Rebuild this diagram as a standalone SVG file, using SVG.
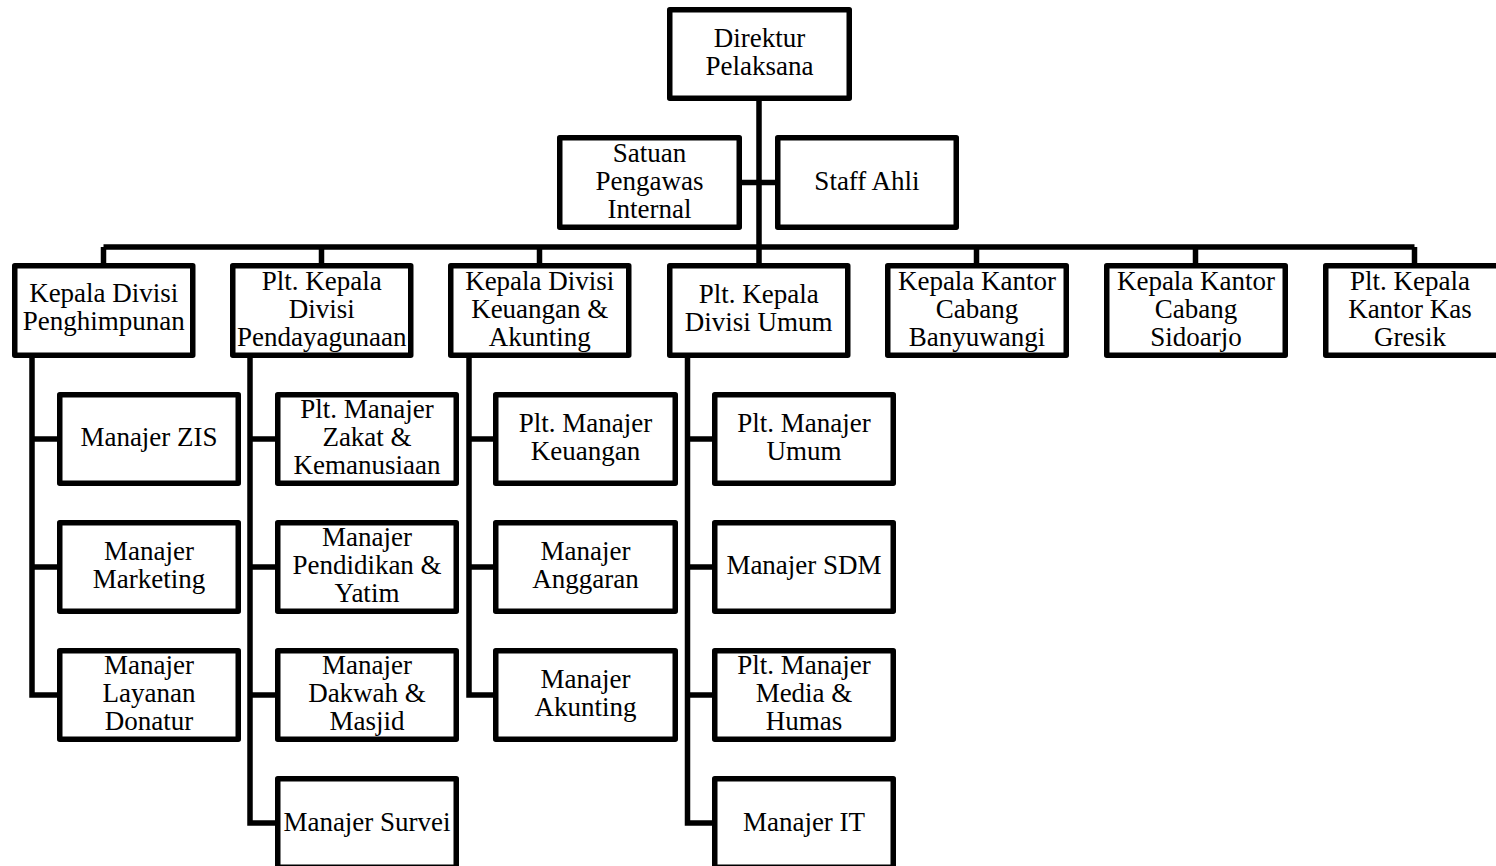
<svg xmlns="http://www.w3.org/2000/svg" width="1496" height="866" viewBox="0 0 1496 866">
<style>
.box{fill:#fff;stroke:#000;stroke-width:5.5;stroke-linejoin:round}
.con{fill:none;stroke:#000;stroke-width:5.5;stroke-linejoin:miter}
.t text{font-family:'Liberation Serif',Tinos,'Times New Roman','DejaVu Serif',serif;font-size:27px;fill:#000;text-anchor:middle}
</style>
<rect width="1496" height="866" fill="#fff"/>
<g id="connectors">
<path class="con" d="M759 101V263M742 182.5H775M103.5 247H1414.5M103.5 247V263M321.5 247V263M539.5 247V263M976.5 247V263M1195.5 247V263M1414.5 247V263"/>
<path class="con" d="M32 358V695H57M32 439H57M32 567H57"/>
<path class="con" d="M250 358V823H275M250 439H275M250 567H275M250 695H275"/>
<path class="con" d="M469 358V695H493M469 439H493M469 567H493"/>
<path class="con" d="M687.5 358V823H712M687.5 439H712M687.5 567H712M687.5 695H712"/>
</g>
<g class="t" font-family="'Liberation Serif', Tinos, 'DejaVu Serif', serif">
<g id="direktur"><rect class="box" x="669.75" y="9.75" width="179.5" height="88.5"/><text x="759.5" y="47">Direktur</text><text x="759.5" y="75">Pelaksana</text></g>
<g id="spi"><rect class="box" x="559.75" y="137.75" width="179.5" height="89.5"/><text x="649.5" y="161.5">Satuan</text><text x="649.5" y="189.5">Pengawas</text><text x="649.5" y="217.5">Internal</text></g>
<g id="staff-ahli"><rect class="box" x="777.75" y="137.75" width="178.5" height="89.5"/><text x="867" y="190">Staff Ahli</text></g>

<g id="div-penghimpunan"><rect class="box" x="14.75" y="265.75" width="178" height="89.5"/><text x="103.75" y="302">Kepala Divisi</text><text x="103.75" y="330">Penghimpunan</text></g>
<g id="div-pendayagunaan"><rect class="box" x="232.75" y="265.75" width="178" height="89.5"/><text x="321.75" y="290">Plt. Kepala</text><text x="321.75" y="318">Divisi</text><text x="321.75" y="346">Pendayagunaan</text></g>
<g id="div-keuangan"><rect class="box" x="450.75" y="265.75" width="178" height="89.5"/><text x="539.75" y="290">Kepala Divisi</text><text x="539.75" y="318">Keuangan &amp;</text><text x="539.75" y="346">Akunting</text></g>
<g id="div-umum"><rect class="box" x="669.75" y="265.75" width="178" height="89.5"/><text x="758.75" y="303">Plt. Kepala</text><text x="758.75" y="331">Divisi Umum</text></g>
<g id="kc-banyuwangi"><rect class="box" x="887.75" y="265.75" width="178.5" height="89.5"/><text x="977" y="290">Kepala Kantor</text><text x="977" y="318">Cabang</text><text x="977" y="346">Banyuwangi</text></g>
<g id="kc-sidoarjo"><rect class="box" x="1106.75" y="265.75" width="178.5" height="89.5"/><text x="1196" y="290">Kepala Kantor</text><text x="1196" y="318">Cabang</text><text x="1196" y="346">Sidoarjo</text></g>
<g id="kk-gresik"><rect class="box" x="1325.75" y="265.75" width="178.5" height="89.5"/><text x="1410" y="290">Plt. Kepala</text><text x="1410" y="318">Kantor Kas</text><text x="1410" y="346">Gresik</text></g>

<g id="m-zis"><rect class="box" x="59.75" y="394.75" width="178.5" height="88.5"/><text x="149" y="446">Manajer ZIS</text></g>
<g id="m-marketing"><rect class="box" x="59.75" y="522.75" width="178.5" height="88.5"/><text x="149" y="560">Manajer</text><text x="149" y="588">Marketing</text></g>
<g id="m-layanan"><rect class="box" x="59.75" y="650.75" width="178.5" height="88.5"/><text x="149" y="674">Manajer</text><text x="149" y="702">Layanan</text><text x="149" y="730">Donatur</text></g>

<g id="m-zakat"><rect class="box" x="277.75" y="394.75" width="178.5" height="88.5"/><text x="367" y="418">Plt. Manajer</text><text x="367" y="446">Zakat &amp;</text><text x="367" y="474">Kemanusiaan</text></g>
<g id="m-pendidikan"><rect class="box" x="277.75" y="522.75" width="178.5" height="88.5"/><text x="367" y="546">Manajer</text><text x="367" y="574">Pendidikan &amp;</text><text x="367" y="602">Yatim</text></g>
<g id="m-dakwah"><rect class="box" x="277.75" y="650.75" width="178.5" height="88.5"/><text x="367" y="674">Manajer</text><text x="367" y="702">Dakwah &amp;</text><text x="367" y="730">Masjid</text></g>
<g id="m-survei"><rect class="box" x="277.75" y="778.75" width="178.5" height="88.5"/><text x="367" y="831">Manajer Survei</text></g>

<g id="m-keuangan"><rect class="box" x="495.75" y="394.75" width="179.5" height="88.5"/><text x="585.5" y="432">Plt. Manajer</text><text x="585.5" y="460">Keuangan</text></g>
<g id="m-anggaran"><rect class="box" x="495.75" y="522.75" width="179.5" height="88.5"/><text x="585.5" y="560">Manajer</text><text x="585.5" y="588">Anggaran</text></g>
<g id="m-akunting"><rect class="box" x="495.75" y="650.75" width="179.5" height="88.5"/><text x="585.5" y="688">Manajer</text><text x="585.5" y="716">Akunting</text></g>

<g id="m-umum"><rect class="box" x="714.75" y="394.75" width="178.5" height="88.5"/><text x="804" y="432">Plt. Manajer</text><text x="804" y="460">Umum</text></g>
<g id="m-sdm"><rect class="box" x="714.75" y="522.75" width="178.5" height="88.5"/><text x="804" y="574">Manajer SDM</text></g>
<g id="m-media"><rect class="box" x="714.75" y="650.75" width="178.5" height="88.5"/><text x="804" y="674">Plt. Manajer</text><text x="804" y="702">Media &amp;</text><text x="804" y="730">Humas</text></g>
<g id="m-it"><rect class="box" x="714.75" y="778.75" width="178.5" height="88.5"/><text x="804" y="831">Manajer IT</text></g>
</g>
</svg>
